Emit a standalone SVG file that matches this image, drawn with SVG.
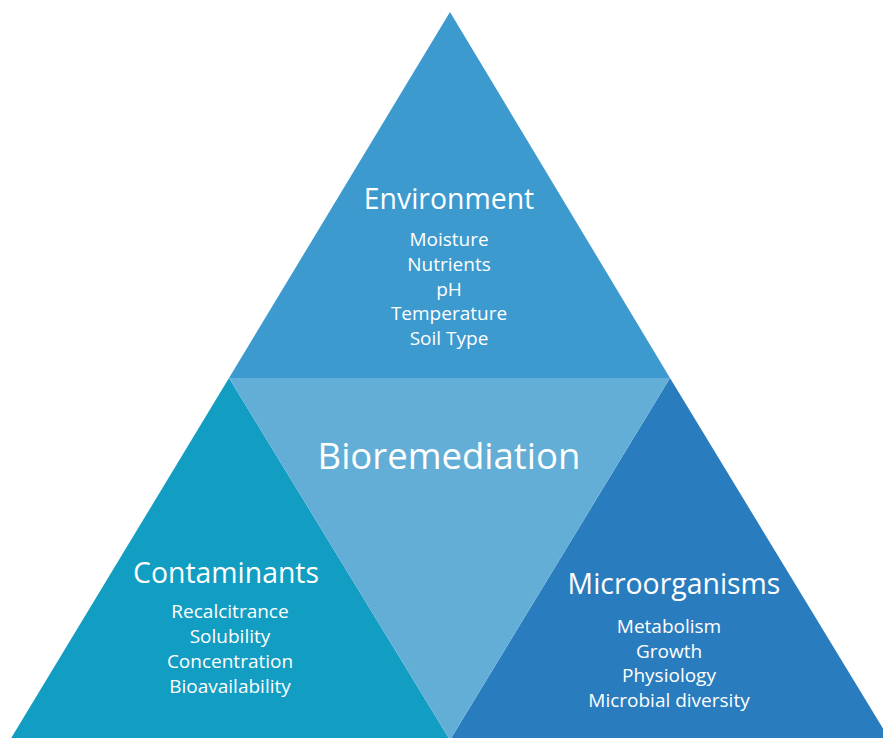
<svg xmlns="http://www.w3.org/2000/svg" width="883" height="738" viewBox="0 0 883 738">
  <style>
    text { font-family: "Open Sans", "Liberation Sans", sans-serif; fill: #ffffff; text-anchor: middle; }
    .title { font-size: 28.4px; }
    .main { font-size: 36.5px; }
    .item { font-size: 19px; }
  </style>
  <rect width="883" height="738" fill="#ffffff"/>
  <g id="environment">
    <polygon points="450,12 670,378 229,378" fill="#3c9acf"/>
    <text class="title" x="449" y="209">Environment</text>
    <text class="item" x="449" y="246">Moisture</text>
    <text class="item" x="449" y="271">Nutrients</text>
    <text class="item" x="449" y="296">pH</text>
    <text class="item" x="449" y="320">Temperature</text>
    <text class="item" x="449" y="345">Soil Type</text>
  </g>
  <g id="contaminants">
    <polygon points="229,378 450,740 10,740" fill="#129dc2"/>
    <text class="title" x="226" y="583">Contaminants</text>
    <text class="item" x="230" y="618">Recalcitrance</text>
    <text class="item" x="230" y="643">Solubility</text>
    <text class="item" x="230" y="668">Concentration</text>
    <text class="item" x="230" y="693">Bioavailability</text>
  </g>
  <g id="microorganisms">
    <polygon points="670,378 890,740 450,740" fill="#297cbe"/>
    <text class="title" x="674" y="594">Microorganisms</text>
    <text class="item" x="669" y="633">Metabolism</text>
    <text class="item" x="669" y="658">Growth</text>
    <text class="item" x="669" y="682">Physiology</text>
    <text class="item" x="669" y="707">Microbial diversity</text>
  </g>
  <g id="bioremediation">
    <polygon points="229,378 670,378 450,740" fill="#63aed6"/>
    <text class="main" x="449" y="469">Bioremediation</text>
  </g>
  <g id="connectors"/>
</svg>
